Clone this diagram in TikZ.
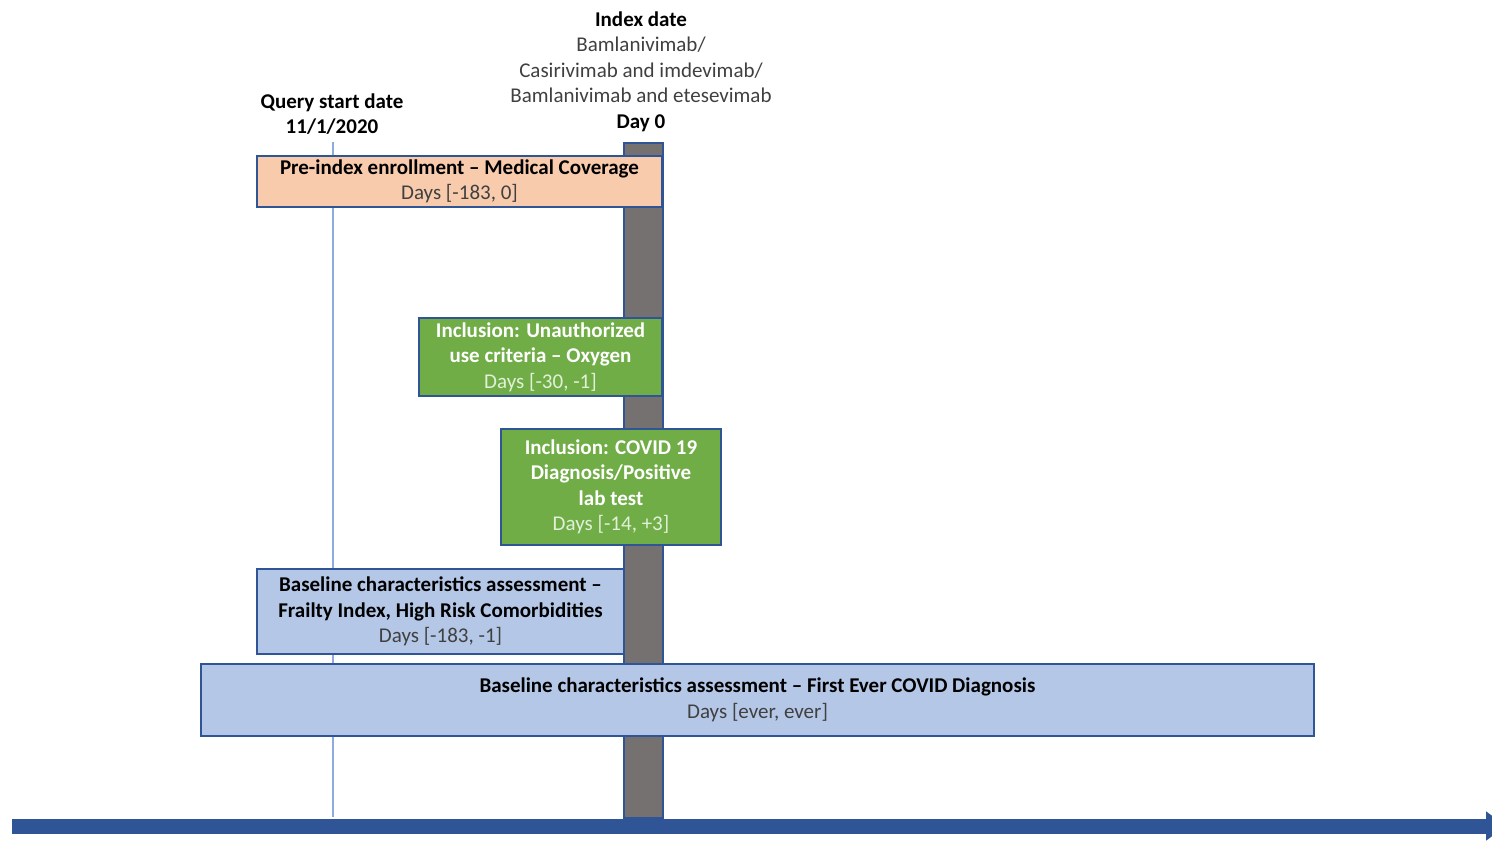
\documentclass[tikz,border=0pt]{standalone}
\usepackage{fontspec}
\setmainfont{Carlito}
\usetikzlibrary{positioning,arrows.meta}
\definecolor{boxline}{HTML}{2F5597}
\definecolor{daygrey}{HTML}{767171}
\definecolor{coverage}{HTML}{F8CBAD}
\definecolor{incl}{HTML}{70AD47}
\definecolor{baseline}{HTML}{B4C7E7}
\definecolor{softtext}{HTML}{404040}
\definecolor{greentext}{HTML}{E2F0D9}
\definecolor{qline}{HTML}{8FAADC}

\begin{document}
\begin{tikzpicture}[x=0.5pt,y=-0.5pt,
    txt/.style={font=\fontsize{10.5}{12.75}\selectfont, align=center, inner sep=0pt},
    period/.style={txt, draw=boxline, line width=1pt, anchor=north west}]
    \useasboundingbox (0,0) rectangle (1492,840);
    % day 0 bar and query start line
    \node[draw=boxline, fill=daygrey, line width=1pt, inner sep=0pt, anchor=north west,
      minimum width=19.5pt, minimum height=337.5pt] (day0) at (623,142) {};
    \node[txt, anchor=south] (query) at (332,135) {\textbf{Query start date}\\\textbf{11/1/2020}};
    \node[txt, anchor=south] (index) at (641,132) {\textbf{Index date}\\
      {\color{softtext}Bamlanivimab/}\\
      {\color{softtext}Casirivimab and imdevimab/}\\
      {\color{softtext}Bamlanivimab and etesevimab}\\
      \textbf{Day 0}};
    \coordinate (qtop) at (333,142);
    \coordinate (qbot) at (333,817);
    \draw[qline, line width=0.6pt] (qtop) -- (qbot);
    % periods
    \node[period, fill=coverage, minimum width=202.5pt, minimum height=25.5pt] (pre) at (256,155)
      {\textbf{Pre-index enrollment -- Medical Coverage}\\{\color{softtext}Days [-183, 0]}};
    \node[period, fill=incl, text=white, minimum width=121.5pt, minimum height=39pt] (oxy) at (418,317)
      {\textbf{Inclusion: Unauthorized}\\\textbf{use criteria -- Oxygen}\\{\color{greentext}Days [-30, -1]}};
    \node[period, fill=incl, text=white, minimum width=110pt, minimum height=58pt] (covid) at (500,428)
      {\textbf{Inclusion: COVID 19}\\\textbf{Diagnosis/Positive}\\\textbf{lab test}\\{\color{greentext}Days [-14, +3]}};
    \node[period, fill=baseline, minimum width=183.5pt, minimum height=42.5pt] (frail) at (256,568)
      {\textbf{Baseline characteristics assessment --}\\\textbf{Frailty Index, High Risk Comorbidities}\\{\color{softtext}Days [-183, -1]}};
    \node[period, fill=baseline, minimum width=556.5pt, minimum height=36pt] (first) at (200,663)
      {\textbf{Baseline characteristics assessment -- First Ever COVID Diagnosis}\\{\color{softtext}Days [ever, ever]}};
    % time axis
    \coordinate (t0) at (12,826);
    \coordinate (t1) at (1506,826);
    \draw[boxline, line width=7.5pt, -{Triangle[length=10pt,width=14pt]}] (t0) -- (t1);
\end{tikzpicture}
\end{document}
